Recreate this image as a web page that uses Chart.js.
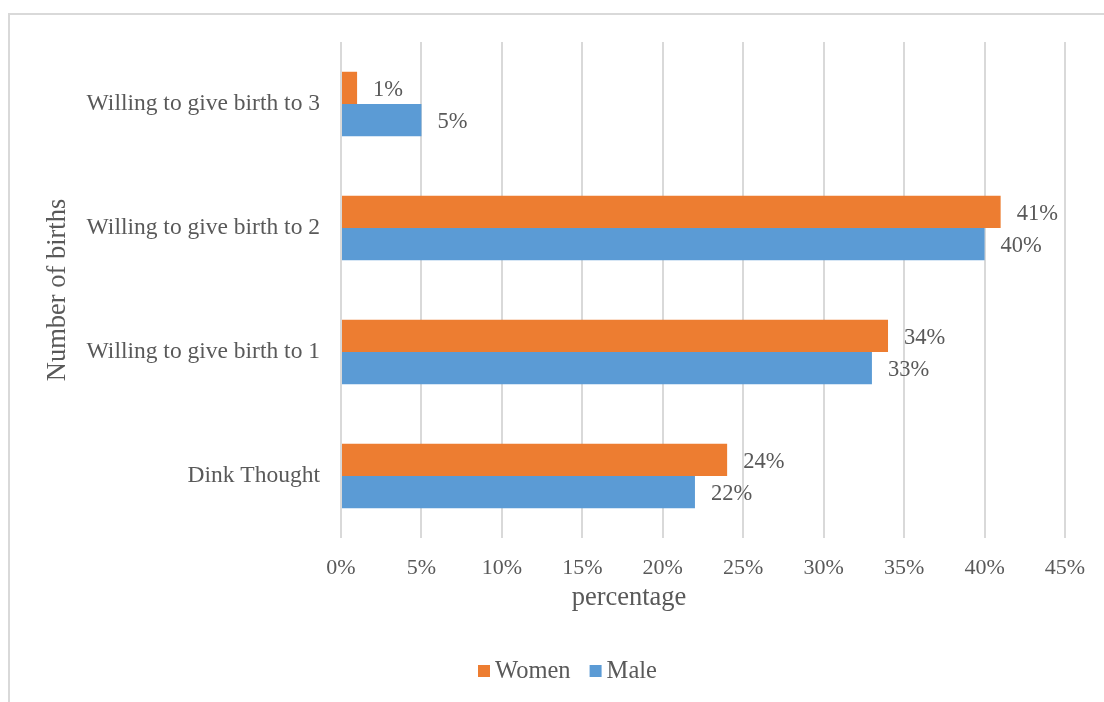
<!DOCTYPE html>
<html>
<head>
<meta charset="utf-8">
<script src="https://cdn.jsdelivr.net/npm/chart.js@4.4.0/dist/chart.umd.min.js"></script>
<style>
  body { margin: 0; background: #fff; }
  #frame { position: absolute; left: 8px; top: 13px; width: 1200px; height: 800px;
           border-top: 2px solid #d9d9d9; border-left: 2px solid #d9d9d9; }
  #wrap { position: absolute; left: 0; top: 0; width: 1104px; height: 702px; }
</style>
</head>
<body>
<div id="frame"></div>
<div id="wrap"><canvas id="chart" width="1104" height="702"></canvas></div>
<script>
/* chart data */
var categories = ['Willing to give birth to 3', 'Willing to give birth to 2', 'Willing to give birth to 1', 'Dink Thought'];
var womenValues = [1, 41, 34, 24];
var maleValues = [5, 40, 33, 22];
var xTicks = [0, 5, 10, 15, 20, 25, 30, 35, 40, 45];

var textColor = '#595959';
var fontFamily = '"Liberation Serif", "Times New Roman", serif';

// labels at the end of each bar, x axis title and legend
var extras = {
  id: 'extras',
  afterDatasetsDraw: function(chart) {
    var ctx = chart.ctx;
    ctx.save();
    ctx.font = '22.5px ' + fontFamily;
    ctx.fillStyle = textColor;
    ctx.textAlign = 'left';
    ctx.textBaseline = 'middle';
    chart.data.datasets.forEach(function(ds, i) {
      var meta = chart.getDatasetMeta(i);
      meta.data.forEach(function(el, j) {
        ctx.fillText(ds.data[j] + '%', el.x + 16, el.y + 2);
      });
    });
    ctx.restore();
  },
  afterDraw: function(chart) {
    var ctx = chart.ctx;
    ctx.save();
    ctx.fillStyle = textColor;
    ctx.textBaseline = 'middle';

    // x axis title
    ctx.font = '26.5px ' + fontFamily;
    ctx.textAlign = 'center';
    ctx.fillText('percentage', 629, 598);

    // legend
    ctx.font = '24.5px ' + fontFamily;
    ctx.textAlign = 'left';
    var x = 478;
    var y = 671;
    chart.data.datasets.forEach(function(ds) {
      ctx.fillStyle = ds.backgroundColor;
      ctx.fillRect(x, y - 6, 12, 12);
      ctx.fillStyle = textColor;
      ctx.fillText(ds.label, x + 17, y + 1);
      x += 17 + ctx.measureText(ds.label).width + 19;
    });
    ctx.restore();
  }
};

new Chart(document.getElementById('chart'), {
  type: 'bar',
  data: {
    labels: categories,
    datasets: [
      { label: 'Women', data: womenValues, backgroundColor: '#ED7D31' },
      { label: 'Male', data: maleValues, backgroundColor: '#5B9BD5' }
    ]
  },
  options: {
    indexAxis: 'y',
    responsive: false,
    animation: false,
    datasets: { bar: { categoryPercentage: 0.52, barPercentage: 1 } },
    layout: { padding: { top: 42, right: 39, left: 0, bottom: 0 } },
    scales: {
      x: {
        min: 0,
        max: 45,
        afterBuildTicks: function(scale) {
          scale.ticks = xTicks.map(function(v) { return { value: v }; });
        },
        afterFit: function(scale) { scale.height = 164; },
        grid: { color: '#d9d9d9', lineWidth: 2, drawTicks: false },
        border: { display: false },
        ticks: {
          color: textColor,
          font: { family: fontFamily, size: 22 },
          padding: 17,
          maxRotation: 0,
          callback: function(v) { return v + '%'; }
        }
      },
      y: {
        afterFit: function(scale) { scale.width = 341; },
        grid: { display: false, drawTicks: false },
        border: { display: false },
        ticks: {
          color: textColor,
          font: { family: fontFamily, size: 23.5 },
          padding: 21
        },
        title: {
          display: true,
          text: 'Number of births',
          color: textColor,
          font: { family: fontFamily, size: 26.5 },
          padding: { top: 42, bottom: 0 }
        }
      }
    },
    plugins: {
      legend: { display: false },
      tooltip: { enabled: false }
    }
  },
  plugins: [extras]
});
</script>
</body>
</html>
